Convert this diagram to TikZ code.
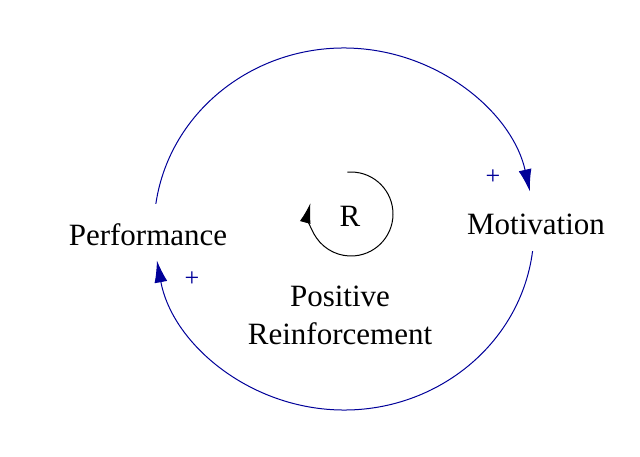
\documentclass[tikz,border=0pt]{standalone}
\usepackage{fontspec}
\setmainfont{Liberation Serif}
\usetikzlibrary{arrows.meta}
\begin{document}
\begin{tikzpicture}[x=1pt,y=-1pt,
  lbl/.style={font=\fontsize{31}{34}\selectfont, inner sep=0pt},
  link/.style={draw=blue!60!black, line width=1pt, -{Latex[length=22pt,width=13pt]}},
  pls/.style={text=blue!60!black, font=\fontsize{26}{28}\selectfont, inner sep=0pt}]
\useasboundingbox (0,0) rectangle (640,456);
\node[lbl] (perf) at (148,235) {Performance};
\node[lbl] (mot) at (536,224) {Motivation};
\node[lbl] (r) at (350,216) {R};
\node[lbl, align=center] (pr) at (340,315) {Positive\\[4pt]Reinforcement};
\node[pls] (p1) at (493,177) {+};
\node[pls] (p2) at (192,279) {+};
\coordinate (c) at (344,229);
\draw[link] ([shift={(172:190pt and 181pt)}]c) arc[start angle=172, end angle=12, x radius=190pt, y radius=181pt];
\draw[link] ([shift={(-7:190pt and 181pt)}]c) arc[start angle=-7, end angle=-170, x radius=190pt, y radius=181pt];
\coordinate (rc) at (351,214);
\draw[line width=1pt, -{Latex[length=20pt,width=11pt]}] ([shift={(95:42pt and 42pt)}]rc) arc[start angle=95, end angle=-195, x radius=42pt, y radius=42pt];
\end{tikzpicture}
\end{document}
